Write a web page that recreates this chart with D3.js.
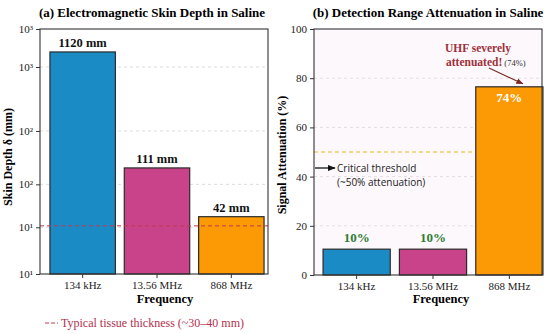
<!DOCTYPE html>
<html>
<head>
<meta charset="utf-8">
<script src="https://cdn.jsdelivr.net/npm/d3@7"></script>
<style>
  body { margin: 0; background: #fff; }
  svg { display: block; }
  .serif { font-family: "Liberation Serif", "DejaVu Serif", serif; }
  .sans { font-family: "Open Sans", "Noto Sans", sans-serif; }
</style>
</head>
<body>
<svg width="550" height="334"></svg>
<script>
// frequencies shared by both panels
const frequencies = ['134 kHz', '13.56 MHz', '868 MHz'];
const barColors = ['#1b8bc6', '#c9438b', '#fb9a05'];

// (a) skin depth, mm (log axis)
const skinDepth = [1120, 111, 42];
const skinLabels = ['1120 mm', '111 mm', '42 mm'];
const tissueThickness = 35;
const skinTickValues = [13.4, 34, 80, 232, 830, 1770];
const skinTickLabels = ['10¹', '10¹', '10²', '10²', '10³', '10³'];

// (b) signal attenuation, %
const attenuation = [10.5, 10.5, 76.5];
const attenuationLabels = ['10%', '10%', '74%'];
const attenuationTicks = [0, 20, 40, 60, 80, 100];
const criticalThreshold = 50;

const svg = d3.select('svg');

function frame(g, x0, x1, y0, y1, fill) {
  g.append('rect')
    .attr('x', x0).attr('y', y0)
    .attr('width', x1 - x0).attr('height', y1 - y0)
    .attr('fill', fill);
}

function border(g, x0, x1, y0, y1) {
  g.append('rect')
    .attr('x', x0).attr('y', y0)
    .attr('width', x1 - x0).attr('height', y1 - y0)
    .attr('fill', 'none')
    .attr('stroke', '#333')
    .attr('stroke-width', 1.1);
}

function styleAxis(sel) {
  sel.selectAll('.domain').remove();
  sel.selectAll('.tick line').attr('stroke', '#333');
  sel.selectAll('.tick text')
    .attr('class', 'serif')
    .attr('font-size', 11)
    .attr('fill', '#222');
}

// ---------- panel (a) ----------
{
  const left = 40, right = 268, top = 29, bottom = 274;
  const g = svg.append('g');
  frame(g, left, right, top, bottom, '#fff');

  const x = d3.scaleBand().domain(frequencies).range([left + 4, right + 2])
    .paddingInner(0.12).paddingOuter(0.08);
  const y = d3.scaleLog().domain([13.4, 1770]).range([bottom, top]);

  // grid
  g.append('g').selectAll('line')
    .data(skinTickValues.slice(1, -1))
    .enter().append('line')
    .attr('x1', left).attr('x2', right)
    .attr('y1', (d) => y(d)).attr('y2', (d) => y(d))
    .attr('stroke', '#ddd')
    .attr('stroke-dasharray', '3,3');

  g.append('g').selectAll('rect')
    .data(skinDepth)
    .enter().append('rect')
    .attr('x', (d, i) => x(frequencies[i]))
    .attr('y', (d) => y(d))
    .attr('width', x.bandwidth())
    .attr('height', (d) => bottom - y(d))
    .attr('fill', (d, i) => barColors[i])
    .attr('stroke', '#2a2a2a')
    .attr('stroke-width', 1.2);

  g.append('g').selectAll('text')
    .data(skinDepth)
    .enter().append('text')
    .attr('class', 'serif')
    .attr('x', (d, i) => x(frequencies[i]) + x.bandwidth() / 2)
    .attr('y', (d) => y(d) - 5)
    .attr('text-anchor', 'middle')
    .attr('font-size', 12.5)
    .attr('font-weight', 'bold')
    .attr('fill', '#111')
    .text((d, i) => skinLabels[i]);

  // tissue thickness reference
  g.append('line')
    .attr('x1', left).attr('x2', right)
    .attr('y1', y(tissueThickness)).attr('y2', y(tissueThickness))
    .attr('stroke', '#c0394f')
    .attr('stroke-width', 1)
    .attr('stroke-dasharray', '4,3');

  const yAxis = g.append('g')
    .attr('transform', `translate(${left},0)`)
    .call(d3.axisLeft(y).tickValues(skinTickValues)
      .tickFormat((d, i) => skinTickLabels[i]).tickSize(4));
  styleAxis(yAxis);

  const xAxis = g.append('g')
    .attr('transform', `translate(0,${bottom})`)
    .call(d3.axisBottom(x).tickSize(4));
  styleAxis(xAxis);

  border(g, left, right, top, bottom);

  g.append('text')
    .attr('class', 'serif')
    .attr('x', (left + right) / 2 - 2).attr('y', 17)
    .attr('text-anchor', 'middle')
    .attr('font-size', 13).attr('font-weight', 'bold')
    .text('(a) Electromagnetic Skin Depth in Saline');

  g.append('text')
    .attr('class', 'serif')
    .attr('transform', 'translate(12,157) rotate(-90)')
    .attr('text-anchor', 'middle')
    .attr('font-size', 12).attr('font-weight', 'bold')
    .text('Skin Depth δ (mm)');

  g.append('text')
    .attr('class', 'serif')
    .attr('x', 165).attr('y', 303)
    .attr('text-anchor', 'middle')
    .attr('font-size', 12.5).attr('font-weight', 'bold')
    .text('Frequency');

  // legend
  g.append('line')
    .attr('x1', 45).attr('x2', 58)
    .attr('y1', 323).attr('y2', 323)
    .attr('stroke', '#c0394f')
    .attr('stroke-dasharray', '4,2');
  g.append('text')
    .attr('class', 'serif')
    .attr('x', 61).attr('y', 327)
    .attr('font-size', 12)
    .attr('fill', '#b3304c')
    .text('Typical tissue thickness (~30–40 mm)');
}

// ---------- panel (b) ----------
{
  const left = 314, right = 542, top = 29, bottom = 275;
  const g = svg.append('g');
  frame(g, left, right, top, bottom, '#fdf8fc');

  const x = d3.scaleBand().domain(frequencies).range([left + 6, right + 4])
    .paddingInner(0.12).paddingOuter(0.04);
  const y = d3.scaleLinear().domain([0, 100]).range([bottom, top]);

  g.append('g').selectAll('line')
    .data(attenuationTicks.slice(1, -1))
    .enter().append('line')
    .attr('x1', left).attr('x2', right)
    .attr('y1', (d) => y(d)).attr('y2', (d) => y(d))
    .attr('stroke', '#e4dde2')
    .attr('stroke-dasharray', '3,3');

  g.append('line')
    .attr('x1', left).attr('x2', right)
    .attr('y1', y(criticalThreshold)).attr('y2', y(criticalThreshold))
    .attr('stroke', '#e6b820')
    .attr('stroke-width', 1)
    .attr('stroke-dasharray', '4,3');

  g.append('g').selectAll('rect')
    .data(attenuation)
    .enter().append('rect')
    .attr('x', (d, i) => x(frequencies[i]))
    .attr('y', (d) => y(d))
    .attr('width', x.bandwidth())
    .attr('height', (d) => bottom - y(d))
    .attr('fill', (d, i) => barColors[i])
    .attr('stroke', '#2a2a2a')
    .attr('stroke-width', 1.2);

  g.append('g').selectAll('text')
    .data(attenuation)
    .enter().append('text')
    .attr('class', 'serif')
    .attr('x', (d, i) => x(frequencies[i]) + x.bandwidth() / 2)
    .attr('y', (d) => (d > 50 ? y(d) + 15 : y(d) - 7))
    .attr('text-anchor', 'middle')
    .attr('font-size', 13)
    .attr('font-weight', 'bold')
    .attr('fill', (d) => (d > 50 ? '#fff' : '#2e7d32'))
    .text((d, i) => attenuationLabels[i]);

  const yAxis = g.append('g')
    .attr('transform', `translate(${left},0)`)
    .call(d3.axisLeft(y).tickValues(attenuationTicks).tickSize(4));
  styleAxis(yAxis);

  const xAxis = g.append('g')
    .attr('transform', `translate(0,${bottom})`)
    .call(d3.axisBottom(x).tickSize(4));
  styleAxis(xAxis);

  border(g, left, right, top, bottom);

  // threshold note
  const defs = svg.append('defs');
  defs.append('marker')
    .attr('id', 'headBlack').attr('viewBox', '0 0 10 10')
    .attr('refX', 9).attr('refY', 5)
    .attr('markerWidth', 6).attr('markerHeight', 6)
    .attr('orient', 'auto')
    .append('path').attr('d', 'M0,1 L10,5 L0,9 z').attr('fill', '#111');
  defs.append('marker')
    .attr('id', 'headRed').attr('viewBox', '0 0 10 10')
    .attr('refX', 9).attr('refY', 5)
    .attr('markerWidth', 6).attr('markerHeight', 6)
    .attr('orient', 'auto')
    .append('path').attr('d', 'M0,1 L10,5 L0,9 z').attr('fill', '#7a2a20');

  g.append('line')
    .attr('x1', left + 1).attr('x2', left + 21)
    .attr('y1', 168).attr('y2', 168)
    .attr('stroke', '#111').attr('stroke-width', 1.3)
    .attr('marker-end', 'url(#headBlack)');
  g.append('text')
    .attr('class', 'sans')
    .attr('x', left + 23).attr('y', 172)
    .attr('font-size', 10)
    .attr('fill', '#222')
    .text('Critical threshold');
  g.append('text')
    .attr('class', 'sans')
    .attr('x', left + 23).attr('y', 186)
    .attr('font-size', 10)
    .attr('fill', '#222')
    .text('(~50% attenuation)');

  // UHF note
  g.append('text')
    .attr('class', 'serif')
    .attr('x', 478).attr('y', 52)
    .attr('text-anchor', 'middle')
    .attr('fill', '#a0303a')
    .attr('font-weight', 'bold')
    .attr('font-size', 11.5)
    .text('UHF severely');
  g.append('text')
    .attr('class', 'serif')
    .attr('x', 446).attr('y', 66)
    .attr('fill', '#a0303a')
    .attr('font-size', 11.5).attr('font-weight', 'bold')
    .text('attenuated!')
    .append('tspan')
    .attr('font-size', 8.5).attr('font-weight', 'normal')
    .attr('fill', '#333')
    .text(' (74%)');
  g.append('line')
    .attr('x1', 489).attr('y1', 68)
    .attr('x2', x(frequencies[2]) + x.bandwidth() * 0.7).attr('y2', y(attenuation[2]) - 3)
    .attr('stroke', '#7a2a20').attr('stroke-width', 1.2)
    .attr('marker-end', 'url(#headRed)');

  g.append('text')
    .attr('class', 'serif')
    .attr('x', (left + right) / 2).attr('y', 17)
    .attr('text-anchor', 'middle')
    .attr('font-size', 13).attr('font-weight', 'bold')
    .text('(b) Detection Range Attenuation in Saline');

  g.append('text')
    .attr('class', 'serif')
    .attr('transform', 'translate(286,155) rotate(-90)')
    .attr('text-anchor', 'middle')
    .attr('font-size', 12).attr('font-weight', 'bold')
    .text('Signal Attenuation (%)');

  g.append('text')
    .attr('class', 'serif')
    .attr('x', 441).attr('y', 303)
    .attr('text-anchor', 'middle')
    .attr('font-size', 12.5).attr('font-weight', 'bold')
    .text('Frequency');
}
</script>
</body>
</html>
